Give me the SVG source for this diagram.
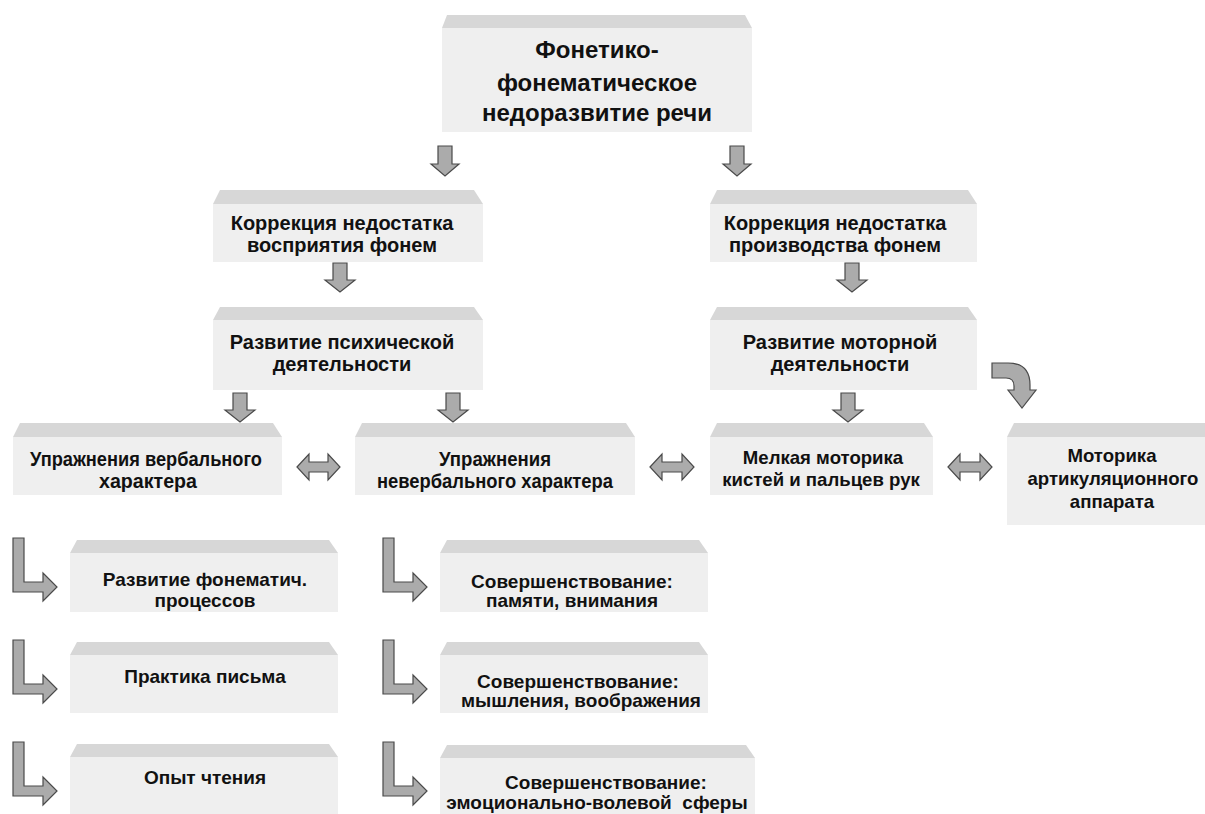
<svg xmlns="http://www.w3.org/2000/svg" width="1205" height="814" viewBox="0 0 1205 814">
<style>
.face{fill:#efefef}
.bevel{fill:#d7d7d7}
.t{font-family:"Liberation Sans",Arial,sans-serif;font-weight:bold;font-size:19px;fill:#111;text-anchor:middle}
.big{font-size:24px}
.m{font-size:20px}
.s{font-size:18.6px}
.arr{fill:#ababab;stroke:#4a4a4a;stroke-width:1.2;stroke-linejoin:miter}
</style>
<rect width="1205" height="814" fill="#fff"/>
<g id="n_top">
<polygon class="bevel" points="447,15 745,15 752,28 442,28"/>
<rect class="face" x="442" y="28" width="310" height="104"/>
<text class="t big" x="597" y="58">Фонетико-</text>
<text class="t big" x="597" y="91">фонематическое</text>
<text class="t big" x="597" y="121">недоразвитие речи</text>
</g>
<g id="n_corr_l">
<polygon class="bevel" points="220,190 474,190 483,204 213,204"/>
<rect class="face" x="213" y="204" width="270" height="58"/>
<text class="t m" x="342" y="230">Коррекция недостатка</text>
<text class="t m" x="342" y="252">восприятия фонем</text>
</g>
<g id="n_corr_r">
<polygon class="bevel" points="717,190 968,190 977,204 710,204"/>
<rect class="face" x="710" y="204" width="267" height="58"/>
<text class="t m" x="835" y="230">Коррекция недостатка</text>
<text class="t m" x="835" y="252">производства фонем</text>
</g>
<g id="n_psy">
<polygon class="bevel" points="220,307 474,307 483,320 213,320"/>
<rect class="face" x="213" y="320" width="270" height="70"/>
<text class="t m" x="342" y="349">Развитие психической</text>
<text class="t m" x="342" y="371">деятельности</text>
</g>
<g id="n_mot">
<polygon class="bevel" points="717,307 968,307 977,320 710,320"/>
<rect class="face" x="710" y="320" width="267" height="70"/>
<text class="t m" x="840" y="349">Развитие моторной</text>
<text class="t m" x="840" y="371">деятельности</text>
</g>
<g id="n_verb">
<polygon class="bevel" points="20,423 273,423 282,437 13,437"/>
<rect class="face" x="13" y="437" width="269" height="58"/>
<text class="t" style="font-size:21px" x="146" y="466" textLength="232" lengthAdjust="spacingAndGlyphs">Упражнения вербального</text>
<text class="t" style="font-size:21px" x="148" y="488" textLength="98" lengthAdjust="spacingAndGlyphs">характера</text>
</g>
<g id="n_nonverb">
<polygon class="bevel" points="362,423 626,423 635,437 355,437"/>
<rect class="face" x="355" y="437" width="280" height="58"/>
<text class="t" style="font-size:21px" x="495" y="466" textLength="112" lengthAdjust="spacingAndGlyphs">Упражнения</text>
<text class="t" style="font-size:21px" x="495" y="488" textLength="236" lengthAdjust="spacingAndGlyphs">невербального характера</text>
</g>
<g id="n_fine">
<polygon class="bevel" points="717,423 924,423 933,437 710,437"/>
<rect class="face" x="710" y="437" width="223" height="58"/>
<text class="t s" x="823" y="464">Мелкая моторика</text>
<text class="t s" x="821" y="486">кистей и пальцев рук</text>
</g>
<g id="n_artic">
<polygon class="bevel" points="1014,423 1205,423 1205,437 1007,437"/>
<rect class="face" x="1007" y="437" width="198" height="88"/>
<text class="t s" x="1112" y="462">Моторика</text>
<text class="t s" x="1113" y="485">артикуляционного</text>
<text class="t s" x="1112" y="508">аппарата</text>
</g>
<g id="n_c1r1">
<polygon class="bevel" points="77,540 329,540 338,553 70,553"/>
<rect class="face" x="70" y="553" width="268" height="59"/>
<text class="t" x="205" y="586">Развитие фонематич.</text>
<text class="t" x="205" y="607">процессов</text>
</g>
<g id="n_c1r2">
<polygon class="bevel" points="77,642 329,642 338,655 70,655"/>
<rect class="face" x="70" y="655" width="268" height="58"/>
<text class="t" x="205" y="683">Практика письма</text>
</g>
<g id="n_c1r3">
<polygon class="bevel" points="77,744 329,744 338,757 70,757"/>
<rect class="face" x="70" y="757" width="268" height="57"/>
<text class="t" x="205" y="784">Опыт чтения</text>
</g>
<g id="n_c2r1">
<polygon class="bevel" points="447,540 699,540 708,553 440,553"/>
<rect class="face" x="440" y="553" width="268" height="59"/>
<text class="t" x="572" y="588">Совершенствование:</text>
<text class="t" x="572" y="607">памяти, внимания</text>
</g>
<g id="n_c2r2">
<polygon class="bevel" points="447,642 699,642 708,655 440,655"/>
<rect class="face" x="440" y="655" width="268" height="58"/>
<text class="t" x="578" y="688">Совершенствование:</text>
<text class="t" x="581" y="707">мышления, воображения</text>
</g>
<g id="n_c2r3">
<polygon class="bevel" points="447,745 746,745 755,758 440,758"/>
<rect class="face" x="440" y="758" width="315" height="56"/>
<text class="t" x="606" y="789">Совершенствование:</text>
<text class="t" x="597" y="809" xml:space="preserve">эмоционально-волевой  сферы</text>
</g>
<g id="connectors">
<path class="arr" d="M438,146 H452 V164 H459 L445,176 L431,164 H438 Z"/>
<path class="arr" d="M730,146 H744 V164 H751 L737,176 L723,164 H730 Z"/>
<path class="arr" d="M333,263 H347 V280 H355 L340,292 L325,280 H333 Z"/>
<path class="arr" d="M845,263 H859 V280 H867 L852,292 L837,280 H845 Z"/>
<path class="arr" d="M233,393 H247 V410 H255 L240,422 L225,410 H233 Z"/>
<path class="arr" d="M446,393 H460 V410 H468 L453,422 L438,410 H446 Z"/>
<path class="arr" d="M841,393 H855 V410 H863 L848,422 L833,410 H841 Z"/>
<path class="arr" d="M992,363 H1008 Q1030,363 1030,385 V390 H1036 L1022,408 L1008,390 H1014 V386 Q1014,378 1006,378 H992 Z"/>
<path class="arr" d="M297,467 L309,454 V462 H328 V454 L340,467 L328,480 V472 H309 V480 Z"/>
<path class="arr" d="M650,467 L662,454 V462 H682 V454 L694,467 L682,480 V472 H662 V480 Z"/>
<path class="arr" d="M948,467 L960,454 V462 H980 V454 L992,467 L980,480 V472 H960 V480 Z"/>
<path class="arr" d="M13,538 H24 V582 H43 V573 L57,587 L43,601 V592 H13 Z"/>
<path class="arr" d="M13,640 H24 V684 H43 V675 L57,689 L43,703 V694 H13 Z"/>
<path class="arr" d="M13,742 H24 V786 H43 V777 L57,791 L43,805 V796 H13 Z"/>
<path class="arr" d="M383,538 H394 V582 H413 V573 L427,587 L413,601 V592 H383 Z"/>
<path class="arr" d="M383,640 H394 V684 H413 V675 L427,689 L413,703 V694 H383 Z"/>
<path class="arr" d="M383,742 H394 V786 H413 V777 L427,791 L413,805 V796 H383 Z"/>
</g>
</svg>
